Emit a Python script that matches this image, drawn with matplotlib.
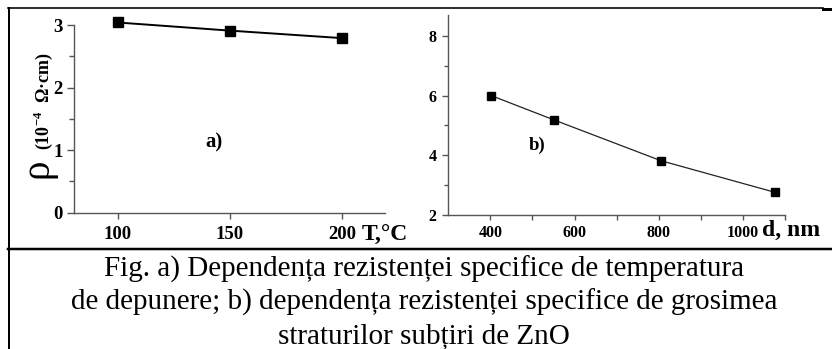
import numpy as np
import matplotlib

matplotlib.use('agg')
import matplotlib.pyplot as plt
import matplotlib.ticker as plticker
from matplotlib.lines import Line2D

# data
temp = [100, 150, 200]                 # deposition temperature, C
rho_temp = [3.04, 2.91, 2.79]          # 1e-4 Ohm*cm
thick = [402, 552, 805, 1076]          # film thickness, nm
rho_thick = [6.0, 5.18, 3.82, 2.76]

caption = ['Fig. a) Dependența rezistenței specifice de temperatura',
           'de depunere; b) dependența rezistenței specifice de grosimea',
           'straturilor subțiri de ZnO']

plt.rcParams['font.family'] = ['Liberation Serif', 'DejaVu Serif']
plt.rcParams['mathtext.fontset'] = 'custom'
plt.rcParams['mathtext.rm'] = 'Liberation Serif:bold'
plt.rcParams['mathtext.bf'] = 'Liberation Serif:bold'

W, H = 832, 349
fig = plt.figure(figsize=(W / 100, H / 100), dpi=100)


def px(x, y):
    # pixel position (from top-left) -> figure fraction
    return x / W, 1 - y / H


def box(x0, y0, x1, y1):
    return [x0 / W, 1 - y1 / H, (x1 - x0) / W, (y1 - y0) / H]


spine_col = '#555555'


def style(ax, size, ylen, xlen, ypad, xpad):
    for s in ['top', 'right']:
        ax.spines[s].set_visible(False)
    for s in ['left', 'bottom']:
        ax.spines[s].set_color(spine_col)
        ax.spines[s].set_linewidth(1.0)
    ax.tick_params(axis='both', which='both', direction='out',
                   color=spine_col, width=1.0, labelsize=size)
    ax.tick_params(axis='y', which='major', length=ylen, pad=ypad)
    ax.tick_params(axis='y', which='minor', length=ylen * 0.7)
    ax.tick_params(axis='x', which='major', length=xlen, pad=xpad)
    ax.tick_params(axis='x', which='minor', length=xlen)
    for lab in ax.get_xticklabels() + ax.get_yticklabels():
        lab.set_fontweight('bold')


# a) resistivity vs temperature
ax1 = fig.add_axes(box(74, 25, 385, 212.7))
ax1.plot(temp, rho_temp, '-s', color='black', lw=1.4, ms=7, clip_on=False)
ax1.set_xlim(80.5, 219)
ax1.set_ylim(0, 3)
ax1.xaxis.set_major_locator(plticker.FixedLocator([100, 150, 200]))
ax1.yaxis.set_major_locator(plticker.MultipleLocator(1))
ax1.yaxis.set_minor_locator(plticker.MultipleLocator(0.5))
style(ax1, 13.5, 5, 4, 3, 5.5)
ax1.text(143, 1.13, 'a)', fontsize=15, fontweight='bold', ha='center', va='center')

# b) resistivity vs thickness
ax2 = fig.add_axes(box(448.3, 15, 785, 215))
ax2.plot(thick, rho_thick, '-s', color='#222222', lw=0.9, ms=6,
         mfc='black', mec='black', clip_on=False)
ax2.set_xlim(300, 1100)
ax2.set_ylim(2, 8.7)
ax2.xaxis.set_major_locator(plticker.FixedLocator([400, 600, 800, 1000]))
ax2.xaxis.set_minor_locator(plticker.FixedLocator([500, 700, 900, 1100]))
ax2.yaxis.set_major_locator(plticker.MultipleLocator(2))
ax2.yaxis.set_minor_locator(plticker.MultipleLocator(1))
style(ax2, 11.5, 4.5, 3.5, 4, 4)
ax2.text(510, 4.35, 'b)', fontsize=13.5, fontweight='bold', ha='center', va='center')

# axis titles
fig.text(*px(385, 240.5), 'T,°C', fontsize=17, fontweight='bold', ha='center', va='baseline')
fig.text(*px(791, 235.5), 'd, nm', fontsize=17, fontweight='bold', ha='center', va='baseline')
fig.text(*px(38, 168.5), 'ρ', fontsize=28, rotation=90, ha='center', va='center')
fig.text(*px(43, 101), r'(10$^{-4}$  Ω·cm)', fontsize=13, fontweight='bold',
         rotation=90, ha='center', va='center')

# caption
for i, line in enumerate(caption):
    fig.text(*px(424, 277 + 33 * i), line, fontsize=21, ha='center', va='baseline')

# frame of the page table
frame = [([8, 823], [8, 8], 1.6), ([823, 832], [8.5, 8.5], 3),
         ([8.5, 8.5], [8, 349], 2), ([8, 832], [249, 249], 2.5)]
for xs, ys, lw in frame:
    fig.add_artist(Line2D([x / W for x in xs], [1 - y / H for y in ys],
                          color='black', lw=lw * 0.72))

plt.savefig('out.png', dpi=100)
